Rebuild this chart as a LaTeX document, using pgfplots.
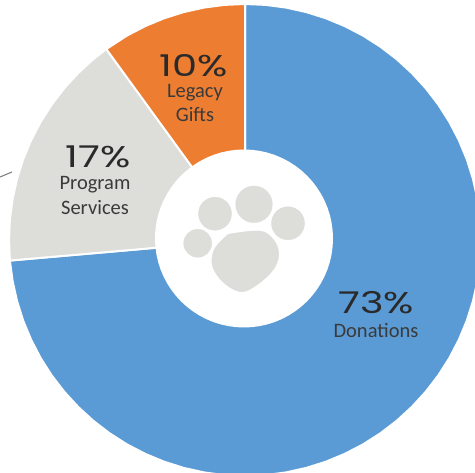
\documentclass[border=0pt]{standalone}
\usepackage{pgfplots}
\pgfplotsset{compat=1.18}
\usepackage{fontspec}
\setmainfont{Carlito}
\newfontfamily\numfont[FakeStretch=1.33]{Poppins}
\definecolor{cblue}{HTML}{5B9BD5}
\definecolor{corange}{HTML}{ED7D31}
\definecolor{cgray}{HTML}{DDDEDA}
\definecolor{ctxt}{HTML}{2A2A2A}
\definecolor{clab}{HTML}{3A3A3A}
\begin{document}
\begin{tikzpicture}
\path[use as bounding box] (0,0) rectangle (475pt,473pt);
\begin{axis}[
  at={(0,0)},anchor=south west,
  width=475pt,height=473pt,scale only axis,axis lines=none,
  xmin=-245,xmax=230,ymin=-233,ymax=240,clip=true,
  nodes={inner sep=0pt}]
% Donations 73%
\addplot[fill=cblue,draw=white,line width=2pt,data cs=polar] coordinates {
(0,0)(90,236)(85,236)(80,236)(75,236)(70,236)(65,236)(60,236)(55,236)(50,236)(45,236)(40,236)(35,236)(30,236)(25,236)(20,236)(15,236)(10,236)(5,236)(0,236)
(-5,236)(-10,236)(-15,236)(-20,236)(-25,236)(-30,236)(-35,236)(-40,236)(-45,236)(-50,236)(-55,236)(-60,236)(-65,236)(-70,236)(-75,236)(-80,236)(-85,236)(-90,236)
(-95,236)(-100,236)(-105,236)(-110,236)(-115,236)(-120,236)(-125,236)(-130,236)(-135,236)(-140,236)(-145,236)(-150,236)(-155,236)(-160,236)(-165,236)(-170,236)(-175,236)
(0,0)} -- cycle;
% Program Services 17%
\addplot[fill=cgray,draw=white,line width=2pt,data cs=polar] coordinates {
(0,0)(126,236)(130,236)(135,236)(140,236)(145,236)(150,236)(155,236)(160,236)(165,236)(170,236)(175,236)(180,236)(185,236)(0,0)} -- cycle;
% Legacy Gifts 10%
\addplot[fill=corange,draw=white,line width=2pt,data cs=polar] coordinates {
(0,0)(90,236)(95,236)(100,236)(105,236)(110,236)(115,236)(120,236)(126,236)(0,0)} -- cycle;
% hole
\addplot[fill=white,draw=none,data cs=polar,xshift=-1pt,yshift=1.5pt] coordinates {
(0,89)(5,89)(10,89)(15,89)(20,89)(25,89)(30,89)(35,89)(40,89)(45,89)(50,89)(55,89)(60,89)(65,89)(70,89)(75,89)(80,89)(85,89)
(90,89)(95,89)(100,89)(105,89)(110,89)(115,89)(120,89)(125,89)(130,89)(135,89)(140,89)(145,89)(150,89)(155,89)(160,89)(165,89)(170,89)(175,89)
(180,89)(185,89)(190,89)(195,89)(200,89)(205,89)(210,89)(215,89)(220,89)(225,89)(230,89)(235,89)(240,89)(245,89)(250,89)(255,89)(260,89)(265,89)
(270,89)(275,89)(280,89)(285,89)(290,89)(295,89)(300,89)(305,89)(310,89)(315,89)(320,89)(325,89)(330,89)(335,89)(340,89)(345,89)(350,89)(355,89)} -- cycle;
% toes
\addplot[only marks,color=cgray,mark=*,mark size=18.3pt] coordinates {(9,35.7)};
\addplot[only marks,color=cgray,mark=*,mark size=16.5pt] coordinates {(-30,26.3)(43,16.7)};
\addplot[only marks,color=cgray,mark=*,mark size=14pt] coordinates {(-47.3,-3.3)};
% pad
\addplot[fill=cgray,draw=cgray,smooth,tension=0.6] coordinates {
(-16.7,5.7)(8.3,9)(21.7,6.7)(31.7,-5)(33.3,-18.3)(26.7,-31.7)(11.7,-45)(-2.3,-51.7)(-15,-47.3)(-26.7,-36.7)(-33,-23.3)(-30,-8.3)(-16.7,5.7)};
% leader line
\addplot[draw=gray,line width=1.1pt] coordinates {(-245,63)(-233,68)};
% labels
\node[text=ctxt,font=\numfont\fontsize{30}{30}\selectfont] at (axis cs:-51,174) {10\%};
\node[text=clab,font=\fontsize{20.5}{20.5}\selectfont] at (axis cs:-50,147) {Legacy};
\node[text=clab,font=\fontsize{20.5}{20.5}\selectfont] at (axis cs:-50,125) {Gifts};
\node[text=ctxt,font=\numfont\fontsize{30}{30}\selectfont] at (axis cs:-147,83) {17\%};
\node[text=clab,font=\fontsize{20.5}{20.5}\selectfont] at (axis cs:-150,55) {Program};
\node[text=clab,font=\fontsize{20.5}{20.5}\selectfont] at (axis cs:-150,32) {Services};
\node[text=ctxt,font=\numfont\fontsize{30}{30}\selectfont] at (axis cs:131,-63) {73\%};
\node[text=clab,font=\fontsize{20.5}{20.5}\selectfont] at (axis cs:131,-90) {Donations};
\end{axis}
\end{tikzpicture}
\end{document}
